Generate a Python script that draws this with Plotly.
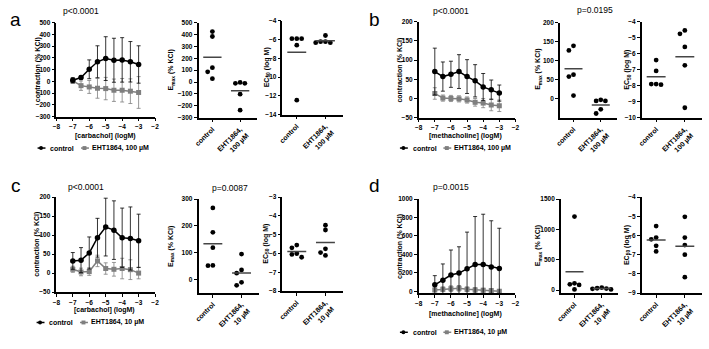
import numpy as np
import plotly.graph_objects as go

W, H = 709, 349
FONT = "Liberation Sans"
GRAY = "#7f7f7f"

# ---------------- data ----------------
log_conc = [-7, -6.5, -6, -5.5, -5, -4.5, -4, -3.5, -3]

a_ctrl_mean = [10, 33, 103, 167, 194, 180, 183, 167, 144]
a_ctrl_sd = [22, 14, 80, 136, 186, 187, 189, 172, 159]
a_eht_mean = [5, -36, -47, -58, -61, -75, -75, -83, -94]
a_eht_sd = [20, 40, 55, 85, 95, 95, 100, 105, 135]

b_ctrl_mean = [70, 57, 63, 70, 57, 46, 30, 23, 14]
b_ctrl_sd = [61, 38, 34, 44, 44, 42, 35, 25, 21]
b_eht_mean = [13, 1, 0, -1, -4, -10, -12, -17, -19]
b_eht_sd = [15, 8, 8, 8, 8, 10, 12, 15, 15]

c_ctrl_mean = [32, 34, 53, 93, 121, 113, 93, 91, 85]
c_ctrl_sd = [22, 33, 42, 51, 76, 77, 78, 83, 70]
c_eht_mean = [10, 3, 4, 32, 12, 10, 12, 9, 0]
c_eht_sd = [8, 10, 10, 15, 15, 18, 27, 26, 15]

d_ctrl_mean = [70, 120, 176, 197, 243, 289, 289, 264, 246]
d_ctrl_sd = [99, 176, 271, 285, 398, 521, 546, 500, 437]
d_eht_mean = [14, 21, 28, 32, 21, 14, 11, 7, 0]
d_eht_sd = [20, 25, 30, 30, 25, 25, 20, 20, 15]

a_emax_ctrl = [425, 383, 121, 86, 28]
a_emax_eht = [-3, -11, -11, -102, -237]
a_ec50_ctrl = [-5.92, -5.92, -5.92, -6.61, -12.45]
a_ec50_eht = [-5.58, -6.23, -6.34, -6.34, -6.23]

b_emax_ctrl = [139, 127, 63, 58, 8]
b_emax_eht = [-6, -6, -3, -28, -39]
b_ec50_ctrl = [-6.40, -7.08, -7.90, -7.94, -7.90]
b_ec50_eht = [-4.55, -4.76, -5.58, -6.73, -9.38]

c_emax_ctrl = [267, 176, 119, 52, 53]
c_emax_eht = [95, 36, 24, -10, -21]
c_ec50_ctrl = [-5.55, -5.70, -6.05, -6.20, -6.00]
c_ec50_eht = [-4.50, -4.75, -5.75, -5.95, -6.10]

d_emax_ctrl = [1210, 110, 95, 85, 10]
d_emax_eht = [40, 30, 20, 25, 10]
d_ec50_ctrl = [-5.51, -6.11, -6.20, -6.54, -6.83]
d_ec50_eht = [-5.03, -6.11, -6.50, -7.00, -8.17]

cat_labels_100 = ["control", "EHT1864,<br>100 µM"]
cat_labels_10 = ["control", "EHT1864,<br>10 µM"]
legend_100 = ["control", "EHT1864, 100 µM"]
legend_10 = ["control", "EHT1864, 10 µM"]
x_ticks = [-8, -7, -6, -5, -4, -3, -2]

# ---------------- helpers ----------------
fig = go.Figure()
layout = {}
annotations = []
shapes = []

tickfont = dict(family=FONT, size=6.5, color="black", weight="bold")
catfont = dict(family=FONT, size=7, color="black", weight="bold")
base_axis = dict(showline=True, linecolor="black", linewidth=1.5, ticks="outside",
                 ticklen=3, tickwidth=1.2, tickcolor="black", showgrid=False,
                 zeroline=False, fixedrange=True)


def ax_names(n):
    s = "" if n == 1 else str(n)
    return "x" + s, "y" + s, "xaxis" + s, "yaxis" + s


def add_axes(n, xpx, ypx, xkw, ykw):
    xr, yr, xa, ya = ax_names(n)
    layout[xa] = dict(base_axis, domain=[xpx[0] / W, xpx[1] / W], anchor=yr, **xkw)
    layout[ya] = dict(base_axis, domain=[1 - ypx[1] / H, 1 - ypx[0] / H], anchor=xr,
                      tickfont=tickfont, **ykw)


def line_panel(n, xpx, ypx, yrange, yticks, cm, csd, em, esd):
    xr, yr, _, _ = ax_names(n)
    add_axes(n, xpx, ypx,
             dict(range=[-8, -2], tickvals=x_ticks, tickfont=tickfont),
             dict(range=yrange, tickvals=yticks))
    fig.add_trace(go.Scatter(x=log_conc, y=em, xaxis=xr, yaxis=yr, mode="lines+markers",
                             line=dict(color=GRAY, width=1.5),
                             marker=dict(symbol="square", size=5, color=GRAY),
                             error_y=dict(type="data", array=esd, color=GRAY,
                                          thickness=0.8, width=2),
                             showlegend=False, cliponaxis=False))
    fig.add_trace(go.Scatter(x=log_conc, y=cm, xaxis=xr, yaxis=yr, mode="lines+markers",
                             line=dict(color="black", width=1.5),
                             marker=dict(symbol="circle", size=5.5, color="black"),
                             error_y=dict(type="data", array=csd, color="black",
                                          thickness=0.8, width=2),
                             showlegend=False, cliponaxis=False))


def jitter(vals, span, thr=0.05, step=0.17):
    vals = np.asarray(vals, float)
    order = np.argsort(-vals)
    offs = np.zeros(len(vals))
    placed = []
    for i in order:
        for k in [0, -1, 1, -2, 2, -3, 3]:
            ok = all(not (abs(vals[i] - vals[j]) / span < thr and k == kj) for j, kj in placed)
            if ok:
                offs[i] = k * step
                placed.append((i, k))
                break
    return offs


def dot_panel(n, xpx, ypx, yrange, yticks, ctrl, eht, labels):
    xr, yr, _, _ = ax_names(n)
    add_axes(n, xpx, ypx,
             dict(range=[0.5, 2.6], tickvals=[1, 2], ticktext=labels, tickangle=-45,
                  tickfont=catfont),
             dict(range=yrange, tickvals=yticks))
    span = yrange[1] - yrange[0]
    for center, vals in [(1, ctrl), (2, eht)]:
        xs = center + jitter(vals, span)
        fig.add_trace(go.Scatter(x=xs, y=vals, xaxis=xr, yaxis=yr, mode="markers",
                                 marker=dict(size=4.8, color="black"),
                                 showlegend=False, cliponaxis=False))
        m = float(np.mean(vals))
        fig.add_trace(go.Scatter(x=[center - 0.33, center + 0.33], y=[m, m], xaxis=xr,
                                 yaxis=yr, mode="lines",
                                 line=dict(color="#454545", width=1.5),
                                 showlegend=False, cliponaxis=False))


def text(x, y, s, size=7, bold=True, angle=0, xanchor="center", color="black"):
    annotations.append(dict(x=x / W, y=1 - y / H, xref="paper", yref="paper", text=s,
                            showarrow=False, textangle=angle, xanchor=xanchor,
                            yanchor="middle",
                            font=dict(family=FONT, size=size, color=color,
                                      weight="bold" if bold else "normal")))


def legend(x0, y, labels):
    shapes.append(dict(type="line", xref="paper", yref="paper", x0=(x0 - 3) / W,
                       x1=(x0 + 5) / W, y0=1 - y / H, y1=1 - y / H,
                       line=dict(color="black", width=1.5)))
    shapes.append(dict(type="circle", xref="paper", yref="paper", x0=(x0 - 1.5) / W,
                       x1=(x0 + 2.5) / W, y0=1 - (y + 2) / H, y1=1 - (y - 2) / H,
                       fillcolor="black", line=dict(color="black", width=0)))
    text(x0 + 8, y, labels[0], size=7, xanchor="left")
    g = x0 + 44
    shapes.append(dict(type="line", xref="paper", yref="paper", x0=(g - 3) / W,
                       x1=(g + 5) / W, y0=1 - y / H, y1=1 - y / H,
                       line=dict(color=GRAY, width=1.5)))
    shapes.append(dict(type="rect", xref="paper", yref="paper", x0=(g - 1.5) / W,
                       x1=(g + 2.5) / W, y0=1 - (y + 2) / H, y1=1 - (y - 2) / H,
                       fillcolor=GRAY, line=dict(color=GRAY, width=0)))
    text(g + 6, y, labels[1], size=7, xanchor="left")


# ---------------- panels ----------------
emax_title = "E<sub>max</sub> (% KCl)"
ec50_title = "EC<sub>50</sub> (log M)"
contr_title = "contraction (% KCl)"

# a
line_panel(1, (52, 152), (19, 115), [-300, 500], list(range(-300, 501, 100)),
           a_ctrl_mean, a_ctrl_sd, a_eht_mean, a_eht_sd)
dot_panel(2, (196, 255), (19, 116), [-300, 500], list(range(-300, 501, 100)),
          a_emax_ctrl, a_emax_eht, cat_labels_100)
dot_panel(3, (281, 342), (17, 113), [-14, -4], list(range(-14, -3, 2)),
          a_ec50_ctrl, a_ec50_eht, cat_labels_100)
# b
line_panel(4, (419, 517), (18, 116), [-50, 200], list(range(-50, 201, 50)),
           b_ctrl_mean, b_ctrl_sd, b_eht_mean, b_eht_sd)
dot_panel(5, (562, 620), (19, 116), [-50, 200], [0, 50, 100, 150, 200],
          b_emax_ctrl, b_emax_eht, cat_labels_100)
dot_panel(6, (645, 706), (18, 116), [-10, -4], list(range(-10, -3)),
          b_ec50_ctrl, b_ec50_eht, cat_labels_100)
# c
line_panel(7, (52, 152), (197, 294), [-50, 200], list(range(-50, 201, 50)),
           c_ctrl_mean, c_ctrl_sd, c_eht_mean, c_eht_sd)
dot_panel(8, (196, 257), (199, 295), [-50, 300], [0, 100, 200, 300],
          c_emax_ctrl, c_emax_eht, cat_labels_10)
dot_panel(9, (281, 342), (197, 293), [-8, -3], list(range(-8, -2)),
          c_ec50_ctrl, c_ec50_eht, cat_labels_10)
# d
line_panel(10, (419, 517), (199, 295), [-20, 1000], list(range(0, 1001, 200)),
           d_ctrl_mean, d_ctrl_sd, d_eht_mean, d_eht_sd)
dot_panel(11, (563, 621), (199, 295), [-50, 1500], [0, 500, 1000, 1500],
          d_emax_ctrl, d_emax_eht, cat_labels_10)
dot_panel(12, (645, 706), (197, 295), [-9, -4], list(range(-9, -3)),
          d_ec50_ctrl, d_ec50_eht, cat_labels_10)

# panel letters
text(11, 16, "a", size=19, bold=False)
text(374, 16, "b", size=19, bold=False)
text(11, 185, "c", size=19, bold=False)
text(374, 185, "d", size=19, bold=False)

# p-values
text(77, 7, "p&lt;0.0001", size=8.5, bold=False)
text(452, 7, "p&lt;0.0001", size=8.5, bold=False)
text(598, 6, "p=0.0195", size=8.5, bold=False)
text(82, 187, "p&lt;0.0001", size=8.5, bold=False)
text(228, 188, "p=0.0087", size=8.5, bold=False)
text(452, 187, "p=0.0015", size=8.5, bold=False)

# axis titles
text(33, 67, contr_title, angle=-90)
text(400, 67, contr_title, angle=-90)
text(33, 245, contr_title, angle=-90)
text(400, 247, contr_title, angle=-90)
text(168, 67, emax_title, angle=-90)
text(540, 67, emax_title, angle=-90)
text(168, 247, emax_title, angle=-90)
text(540, 247, emax_title, angle=-90)
text(265, 65, ec50_title, angle=-90)
text(630, 67, ec50_title, angle=-90)
text(264, 245, ec50_title, angle=-90)
text(630, 246, ec50_title, angle=-90)

text(102, 135, "[carbachol] (logM)")
text(466, 135, "[methacholine] (logM)")
text(101, 312, "[carbachol] (logM)")
text(466, 316, "[methacholine] (logM)")

legend(36, 147, legend_100)
legend(403, 147, legend_100)
legend(35, 325, legend_10)
legend(403, 335, legend_10)

fig.update_layout(width=W, height=H, margin=dict(l=0, r=0, t=0, b=0),
                  paper_bgcolor="white", plot_bgcolor="white", showlegend=False,
                  annotations=annotations, shapes=shapes, **layout)
fig.write_html("out.html", config={"displayModeBar": False})
